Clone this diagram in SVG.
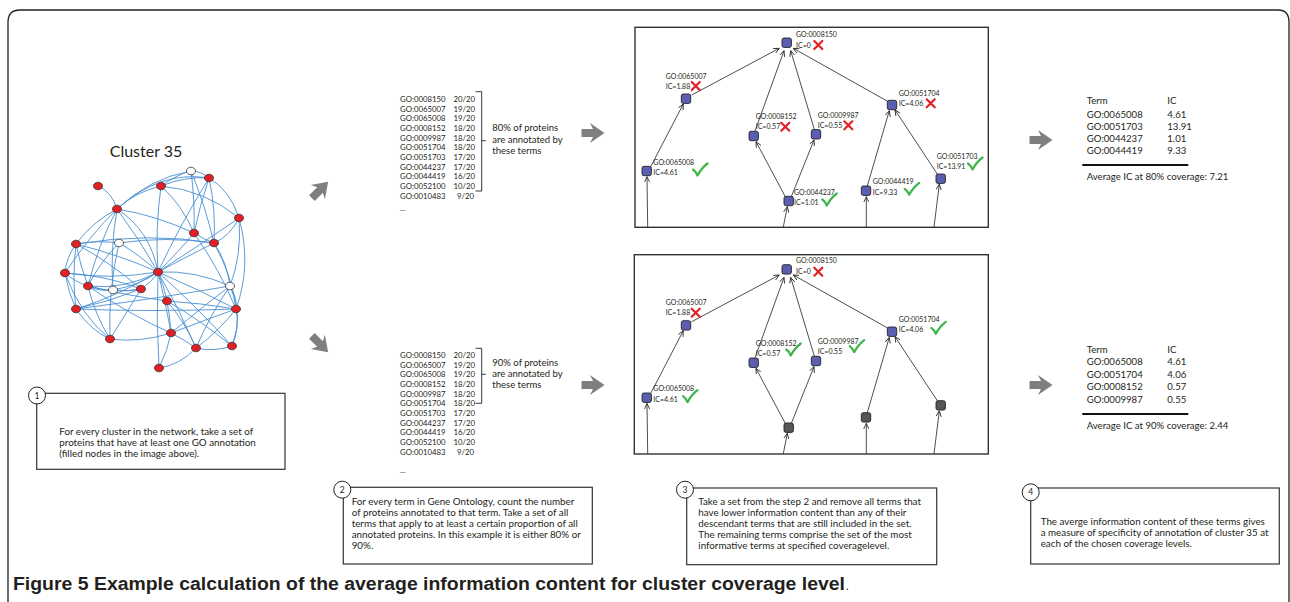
<svg xmlns="http://www.w3.org/2000/svg" width="1290" height="602" viewBox="0 0 1290 602">
<style>
text{font-family:Lato,"Liberation Sans",sans-serif;fill:#231f20}
.lbl{font-size:7px}
.lst{font-size:7.8px}
.br{font-size:9.5px}
.tb{font-size:9.6px}
.bx{font-size:9.8px}
.num{font-size:8.5px;text-anchor:middle}
.ttl{font-size:16px}
.cap{font-family:"Liberation Sans",Arial,sans-serif;font-size:17.5px;font-weight:bold}
.e{fill:none;stroke:#4a90d4;stroke-width:0.9}
.rn{fill:#e31e24;stroke:#333;stroke-width:0.8}
.wn{fill:#fff;stroke:#333;stroke-width:0.8}
.tn{fill:#5b5fb2;stroke:#222;stroke-width:0.9}
.gn{fill:#555;stroke:#222;stroke-width:0.9}
.te{fill:none;stroke:#222;stroke-width:0.8;marker-end:url(#ah)}
.frame{fill:none;stroke:#222;stroke-width:1.3}
.box{fill:#fff;stroke:#333;stroke-width:1.2}
.circ{fill:#fff;stroke:#222;stroke-width:1}
.ga{fill:#7f7f7f}
.xm{fill:none;stroke:#e31e24;stroke-width:2.2;stroke-linecap:round}
.ck{fill:none;stroke:#3db54a;stroke-width:2.2;stroke-linecap:round;stroke-linejoin:round}
.brk{fill:none;stroke:#222;stroke-width:0.9}
</style>
<defs>
<marker id="ah" viewBox="0 0 8 8" refX="7.5" refY="4" markerWidth="6" markerHeight="6" orient="auto" markerUnits="userSpaceOnUse">
<path d="M0,0.5 L7.5,4 L0,7.5" fill="none" stroke="#222" stroke-width="1.1"/>
</marker>
<path id="garrow" class="ga" d="M-11.5,-4 H0 L-3,-10 L11.5,0 L-3,10 L0,4 H-11.5 Z"/>
<g id="xmark"><path class="xm" d="M-4,-4 Q0,0 4,4 M4,-4 Q0,0 -4,4"/></g>
<g id="check"><path class="ck" d="M-7,-0.5 Q-4,1.5 -2.5,5.5 Q1.5,-2 7.5,-6.5"/></g>
</defs>

<path class="frame" d="M8,602 V22 Q8,10 20,10 H1278 Q1289,10 1289,22 V602"/>

<!-- Cluster 35 -->
<g id="cluster">
<text class="ttl" x="146" y="157" text-anchor="middle">Cluster 35</text>
<g id="cluster-edges">
<path class="e" d="M98,186 Q112,192 117,209"/>
<path class="e" d="M117,209 Q135,192 161,186"/>
<path class="e" d="M117,209 Q150,178 191,171"/>
<path class="e" d="M117,209 Q160,170 209,178"/>
<path class="e" d="M161,186 Q178,174 191,171"/>
<path class="e" d="M161,186 Q186,176 209,178"/>
<path class="e" d="M161,186 Q182,205 194,233"/>
<path class="e" d="M161,186 Q205,190 239,218"/>
<path class="e" d="M161,186 Q155,230 158,272"/>
<path class="e" d="M191,171 Q201,171 209,178"/>
<path class="e" d="M191,171 Q195,200 194,233"/>
<path class="e" d="M191,171 Q205,205 214,243"/>
<path class="e" d="M209,178 Q230,190 239,218"/>
<path class="e" d="M209,178 Q216,210 214,243"/>
<path class="e" d="M209,178 Q200,205 194,233"/>
<path class="e" d="M239,218 Q230,236 214,243"/>
<path class="e" d="M239,218 Q242,255 230,286"/>
<path class="e" d="M117,209 Q155,215 194,233"/>
<path class="e" d="M117,209 Q140,240 158,272"/>
<path class="e" d="M117,209 Q150,230 158,272"/>
<path class="e" d="M117,209 Q92,222 76,244"/>
<path class="e" d="M117,209 Q90,235 65,273"/>
<path class="e" d="M117,209 Q98,245 88,286"/>
<path class="e" d="M117,209 Q110,250 113,290"/>
<path class="e" d="M76,244 Q98,240 119,243"/>
<path class="e" d="M76,244 Q150,232 214,243"/>
<path class="e" d="M76,244 Q66,258 65,273"/>
<path class="e" d="M76,244 Q80,265 88,286"/>
<path class="e" d="M76,244 Q120,255 158,272"/>
<path class="e" d="M76,244 Q110,262 141,289"/>
<path class="e" d="M76,244 Q72,278 76,309"/>
<path class="e" d="M119,243 Q100,262 88,286"/>
<path class="e" d="M119,243 Q140,255 158,272"/>
<path class="e" d="M119,243 Q108,290 110,339"/>
<path class="e" d="M119,243 Q165,236 214,243"/>
<path class="e" d="M65,273 Q75,282 88,286"/>
<path class="e" d="M65,273 Q105,275 141,289"/>
<path class="e" d="M65,273 Q110,280 158,272"/>
<path class="e" d="M65,273 Q68,292 76,309"/>
<path class="e" d="M65,273 Q80,315 110,339"/>
<path class="e" d="M88,286 Q100,292 113,290"/>
<path class="e" d="M88,286 Q115,294 141,289"/>
<path class="e" d="M88,286 Q125,290 158,272"/>
<path class="e" d="M88,286 Q130,296 167,301"/>
<path class="e" d="M88,286 Q95,315 110,339"/>
<path class="e" d="M88,286 Q130,315 171,333"/>
<path class="e" d="M113,290 Q127,292 141,289"/>
<path class="e" d="M113,290 Q140,285 158,272"/>
<path class="e" d="M141,289 Q152,282 158,272"/>
<path class="e" d="M141,289 Q125,315 110,339"/>
<path class="e" d="M141,289 Q108,302 76,309"/>
<path class="e" d="M76,309 Q120,295 158,272"/>
<path class="e" d="M76,309 Q160,298 230,286"/>
<path class="e" d="M76,309 Q90,330 110,339"/>
<path class="e" d="M76,309 Q150,312 236,309"/>
<path class="e" d="M158,272 Q180,250 194,233"/>
<path class="e" d="M158,272 Q190,255 214,243"/>
<path class="e" d="M158,272 Q200,245 239,218"/>
<path class="e" d="M158,272 Q180,225 209,178"/>
<path class="e" d="M158,272 Q164,286 167,301"/>
<path class="e" d="M158,272 Q166,305 171,333"/>
<path class="e" d="M158,272 Q180,310 196,348"/>
<path class="e" d="M158,272 Q200,310 232,346"/>
<path class="e" d="M158,272 Q200,290 236,309"/>
<path class="e" d="M158,272 Q195,270 230,286"/>
<path class="e" d="M158,272 Q156,320 159,368"/>
<path class="e" d="M167,301 Q170,317 171,333"/>
<path class="e" d="M167,301 Q185,322 196,348"/>
<path class="e" d="M167,301 Q200,320 232,346"/>
<path class="e" d="M167,301 Q200,303 236,309"/>
<path class="e" d="M171,333 Q185,340 196,348"/>
<path class="e" d="M171,333 Q205,320 236,309"/>
<path class="e" d="M171,333 Q205,305 230,286"/>
<path class="e" d="M110,339 Q140,343 171,333"/>
<path class="e" d="M196,348 Q214,352 232,346"/>
<path class="e" d="M196,348 Q220,330 236,309"/>
<path class="e" d="M232,346 Q240,328 236,309"/>
<path class="e" d="M236,309 Q237,297 230,286"/>
<path class="e" d="M214,243 Q227,262 230,286"/>
<path class="e" d="M214,243 Q232,275 236,309"/>
<path class="e" d="M194,233 Q220,270 236,309"/>
<path class="e" d="M159,368 Q168,350 171,333"/>
<path class="e" d="M159,368 Q180,365 196,348"/>
<path class="e" d="M230,286 Q244,315 232,346"/>
<path class="e" d="M239,218 Q252,265 236,309"/>
<path class="e" d="M194,233 Q205,240 214,243"/>
<path class="e" d="M230,286 Q210,315 196,348"/>
</g>
<g id="cluster-nodes">
<ellipse class="wn" cx="191" cy="171" rx="4.5" ry="3.8"/>
<ellipse class="rn" cx="209" cy="178" rx="4.5" ry="3.8"/>
<ellipse class="rn" cx="98" cy="186" rx="4.5" ry="3.8"/>
<ellipse class="rn" cx="161" cy="186" rx="4.5" ry="3.8"/>
<ellipse class="rn" cx="117" cy="209" rx="4.5" ry="3.8"/>
<ellipse class="rn" cx="239" cy="218" rx="4.5" ry="3.8"/>
<ellipse class="rn" cx="194" cy="233" rx="4.5" ry="3.8"/>
<ellipse class="wn" cx="119" cy="243" rx="4.5" ry="3.8"/>
<ellipse class="rn" cx="76" cy="244" rx="4.5" ry="3.8"/>
<ellipse class="rn" cx="214" cy="243" rx="4.5" ry="3.8"/>
<ellipse class="rn" cx="65" cy="273" rx="4.5" ry="3.8"/>
<ellipse class="rn" cx="158" cy="272" rx="4.5" ry="3.8"/>
<ellipse class="rn" cx="88" cy="286" rx="4.5" ry="3.8"/>
<ellipse class="wn" cx="113" cy="290" rx="4.5" ry="3.8"/>
<ellipse class="rn" cx="141" cy="289" rx="4.5" ry="3.8"/>
<ellipse class="wn" cx="230" cy="286" rx="4.5" ry="3.8"/>
<ellipse class="rn" cx="167" cy="301" rx="4.5" ry="3.8"/>
<ellipse class="rn" cx="76" cy="309" rx="4.5" ry="3.8"/>
<ellipse class="rn" cx="236" cy="309" rx="4.5" ry="3.8"/>
<ellipse class="rn" cx="171" cy="333" rx="4.5" ry="3.8"/>
<ellipse class="rn" cx="110" cy="339" rx="4.5" ry="3.8"/>
<ellipse class="rn" cx="196" cy="348" rx="4.5" ry="3.8"/>
<ellipse class="rn" cx="232" cy="346" rx="4.5" ry="3.8"/>
<ellipse class="rn" cx="159" cy="368" rx="4.5" ry="3.8"/>
</g>
</g>

<!-- Step 1 box -->
<g id="step1">
<rect class="box" x="36.7" y="393.3" width="248.3" height="76"/>
<circle class="circ" cx="37" cy="395.5" r="8.5"/>
<text class="num" x="37" y="398.5">1</text>
<text class="bx" x="59.3" y="435">For every cluster in the network, take a set of</text>
<text class="bx" x="59.3" y="446.2">proteins that have at least one GO annotation</text>
<text class="bx" x="59.3" y="457.4">(filled nodes in the image above).</text>
</g>

<!-- big gray arrows -->
<g id="arrows">
<use href="#garrow" transform="translate(320,190) rotate(-45)"/>
<use href="#garrow" transform="translate(320,344) rotate(45)"/>
<use href="#garrow" transform="translate(593,133)"/>
<use href="#garrow" transform="translate(593,385)"/>
<use href="#garrow" transform="translate(1041,140)"/>
<use href="#garrow" transform="translate(1041,385)"/>
</g>

<!-- GO list 80% -->
<g id="list80">
<text class="lst" x="400" y="101.8">GO:0008150</text><text class="lst" x="475" y="101.8" text-anchor="end">20/20</text>
<text class="lst" x="400" y="111.5">GO:0065007</text><text class="lst" x="475" y="111.5" text-anchor="end">19/20</text>
<text class="lst" x="400" y="121.1">GO:0065008</text><text class="lst" x="475" y="121.1" text-anchor="end">19/20</text>
<text class="lst" x="400" y="130.8">GO:0008152</text><text class="lst" x="475" y="130.8" text-anchor="end">18/20</text>
<text class="lst" x="400" y="140.5">GO:0009987</text><text class="lst" x="475" y="140.5" text-anchor="end">18/20</text>
<text class="lst" x="400" y="150.2">GO:0051704</text><text class="lst" x="475" y="150.2" text-anchor="end">18/20</text>
<text class="lst" x="400" y="159.8">GO:0051703</text><text class="lst" x="475" y="159.8" text-anchor="end">17/20</text>
<text class="lst" x="400" y="169.5">GO:0044237</text><text class="lst" x="475" y="169.5" text-anchor="end">17/20</text>
<text class="lst" x="400" y="179.2">GO:0044419</text><text class="lst" x="475" y="179.2" text-anchor="end">16/20</text>
<text class="lst" x="400" y="188.8">GO:0052100</text><text class="lst" x="475" y="188.8" text-anchor="end">10/20</text>
<text class="lst" x="400" y="198.5">GO:0010483</text><text class="lst" x="474" y="198.5" text-anchor="end">9/20</text>
<text class="lst" x="400" y="211">...</text>
<path class="brk" d="M475.5,91.7 H481.7 V191 H475.5 M481.7,140.7 H485.7"/>
<text class="br" x="492.3" y="131.3">80% of proteins</text>
<text class="br" x="492.3" y="143">are annotated by</text>
<text class="br" x="492.3" y="154">these terms</text>
</g>

<!-- GO list 90% -->
<g id="list90">
<text class="lst" x="400" y="357.8">GO:0008150</text><text class="lst" x="475" y="357.8" text-anchor="end">20/20</text>
<text class="lst" x="400" y="367.5">GO:0065007</text><text class="lst" x="475" y="367.5" text-anchor="end">19/20</text>
<text class="lst" x="400" y="377.1">GO:0065008</text><text class="lst" x="475" y="377.1" text-anchor="end">19/20</text>
<text class="lst" x="400" y="386.8">GO:0008152</text><text class="lst" x="475" y="386.8" text-anchor="end">18/20</text>
<text class="lst" x="400" y="396.5">GO:0009987</text><text class="lst" x="475" y="396.5" text-anchor="end">18/20</text>
<text class="lst" x="400" y="406.2">GO:0051704</text><text class="lst" x="475" y="406.2" text-anchor="end">18/20</text>
<text class="lst" x="400" y="415.8">GO:0051703</text><text class="lst" x="475" y="415.8" text-anchor="end">17/20</text>
<text class="lst" x="400" y="425.5">GO:0044237</text><text class="lst" x="475" y="425.5" text-anchor="end">17/20</text>
<text class="lst" x="400" y="435.2">GO:0044419</text><text class="lst" x="475" y="435.2" text-anchor="end">16/20</text>
<text class="lst" x="400" y="444.8">GO:0052100</text><text class="lst" x="475" y="444.8" text-anchor="end">10/20</text>
<text class="lst" x="400" y="454.5">GO:0010483</text><text class="lst" x="474" y="454.5" text-anchor="end">9/20</text>
<text class="lst" x="400" y="472.7">...</text>
<path class="brk" d="M475.5,348.3 H481.7 V403.3 H475.5 M481.7,374.3 H485.7"/>
<text class="br" x="492.3" y="366.3">90% of proteins</text>
<text class="br" x="492.3" y="377.3">are annotated by</text>
<text class="br" x="492.3" y="387.8">these terms</text>
</g>

<!-- Step 2 box -->
<g id="step2">
<rect class="box" x="343.3" y="487.3" width="249" height="76.7"/>
<circle class="circ" cx="342.3" cy="489.7" r="8.5"/>
<text class="num" x="342.3" y="492.7">2</text>
<text class="bx" x="351.7" y="504.6">For every term in Gene Ontology, count the number</text>
<text class="bx" x="351.7" y="515.8">of proteins annotated to that term. Take a set of all</text>
<text class="bx" x="351.7" y="527">terms that apply to at least a certain proportion of all</text>
<text class="bx" x="351.7" y="538.2">annotated proteins. In this example it is either 80% or</text>
<text class="bx" x="351.7" y="549.4">90%.</text>
</g>

<!-- Top tree (80%) -->
<g id="tree80">
<rect x="635" y="27.3" width="353.3" height="200" fill="#fff" stroke="#333" stroke-width="1.4"/>
<g id="tree80-edges">
<path class="te" d="M691.7,95 L779.3,48.3"/>
<path class="te" d="M755,131 L784,50.7"/>
<path class="te" d="M814.3,129.3 L790.7,50.7"/>
<path class="te" d="M888.3,101.7 L793.3,48.3"/>
<path class="te" d="M650.7,166.7 L683.3,104"/>
<path class="te" d="M785.3,196.7 L756,141.7"/>
<path class="te" d="M791.3,196.7 L814,140"/>
<path class="te" d="M867.3,186 L889.3,110.7"/>
<path class="te" d="M937.3,174 L895,110"/>
<path class="te" d="M647.7,227 L647,176.7"/>
<path class="te" d="M783.3,227 L787.3,206.7"/>
<path class="te" d="M866.3,227 L866.3,196.7"/>
<path class="te" d="M934,227 L939.3,184.3"/>
</g>
<g id="t80-n0"><rect class="tn" x="782" y="38" width="9.4" height="9.4" rx="2"/><text class="lbl" x="796" y="36.5">GO:0008150</text><text class="lbl" x="796" y="47.5">IC=0</text><use href="#xmark" x="818.3" y="45"/></g>
<g id="t80-n1"><rect class="tn" x="681.3" y="94" width="9.4" height="9.4" rx="2"/><text class="lbl" x="665.7" y="78.5">GO:0065007</text><text class="lbl" x="665.7" y="88.5">IC=1.88</text><use href="#xmark" x="695.7" y="86"/></g>
<g id="t80-n2"><rect class="tn" x="749" y="131.3" width="9.4" height="9.4" rx="2"/><text class="lbl" x="755.7" y="119.2">GO:0008152</text><text class="lbl" x="755.7" y="129.2">IC=0.57</text><use href="#xmark" x="785.3" y="126.7"/></g>
<g id="t80-n3"><rect class="tn" x="811.3" y="129.6" width="9.4" height="9.4" rx="2"/><text class="lbl" x="817.7" y="117.8">GO:0009987</text><text class="lbl" x="817.7" y="127.8">IC=0.55</text><use href="#xmark" x="848.3" y="125.3"/></g>
<g id="t80-n4"><rect class="tn" x="887.3" y="100.3" width="9.4" height="9.4" rx="2"/><text class="lbl" x="898.7" y="95.8">GO:0051704</text><text class="lbl" x="898.7" y="105.8">IC=4.06</text><use href="#xmark" x="930.7" y="103.3"/></g>
<g id="t80-n5"><rect class="tn" x="642" y="166.3" width="9.4" height="9.4" rx="2"/><text class="lbl" x="653.3" y="164.8">GO:0065008</text><text class="lbl" x="653.3" y="175.2">IC=4.61</text><use href="#check" x="700" y="170"/></g>
<g id="t80-n6"><rect class="tn" x="784" y="196.3" width="9.4" height="9.4" rx="2"/><text class="lbl" x="794" y="195.2">GO:0044237</text><text class="lbl" x="794" y="204.8">IC=1.01</text><use href="#check" x="829.3" y="200"/></g>
<g id="t80-n7"><rect class="tn" x="861.3" y="186" width="9.4" height="9.4" rx="2"/><text class="lbl" x="872.7" y="184.2">GO:0044419</text><text class="lbl" x="872.7" y="195.2">IC=9.33</text><use href="#check" x="911.7" y="189.3"/></g>
<g id="t80-n8"><rect class="tn" x="936" y="174" width="9.4" height="9.4" rx="2"/><text class="lbl" x="936.7" y="158.5">GO:0051703</text><text class="lbl" x="936.7" y="168.5">IC=13.91</text><use href="#check" x="975" y="164"/></g>
</g>

<!-- Bottom tree (90%) -->
<g id="tree90">
<rect x="634.3" y="254.7" width="354" height="199.3" fill="#fff" stroke="#333" stroke-width="1.4"/>
<g id="tree90-edges" transform="translate(0,226.7)">
<path class="te" d="M691.7,95 L779.3,48.3"/>
<path class="te" d="M755,131 L784,50.7"/>
<path class="te" d="M814.3,129.3 L790.7,50.7"/>
<path class="te" d="M888.3,101.7 L793.3,48.3"/>
<path class="te" d="M650.7,166.7 L683.3,104"/>
<path class="te" d="M785.3,196.7 L756,141.7"/>
<path class="te" d="M791.3,196.7 L814,140"/>
<path class="te" d="M867.3,186 L889.3,110.7"/>
<path class="te" d="M937.3,174 L895,110"/>
<path class="te" d="M647.7,227 L647,176.7"/>
<path class="te" d="M783.3,227 L787.3,206.7"/>
<path class="te" d="M866.3,227 L866.3,196.7"/>
<path class="te" d="M934,227 L939.3,184.3"/>
</g>
<g id="t90-n0" transform="translate(0,226.7)"><rect class="tn" x="782" y="38" width="9.4" height="9.4" rx="2"/><text class="lbl" x="796" y="36.5">GO:0008150</text><text class="lbl" x="796" y="47.5">IC=0</text><use href="#xmark" x="818.3" y="45"/></g>
<g id="t90-n1" transform="translate(0,226.7)"><rect class="tn" x="681.3" y="94" width="9.4" height="9.4" rx="2"/><text class="lbl" x="665.7" y="78.5">GO:0065007</text><text class="lbl" x="665.7" y="88.5">IC=1.88</text><use href="#xmark" x="695.7" y="86"/></g>
<g id="t90-n2" transform="translate(0,226.7)"><rect class="tn" x="749" y="131.3" width="9.4" height="9.4" rx="2"/><text class="lbl" x="755.7" y="119.2">GO:0008152</text><text class="lbl" x="755.7" y="129.2">IC=0.57</text><use href="#check" x="793.3" y="123.3"/></g>
<g id="t90-n3" transform="translate(0,226.7)"><rect class="tn" x="811.3" y="129.6" width="9.4" height="9.4" rx="2"/><text class="lbl" x="817.7" y="117.8">GO:0009987</text><text class="lbl" x="817.7" y="127.8">IC=0.55</text><use href="#check" x="856.7" y="120"/></g>
<g id="t90-n4" transform="translate(0,226.7)"><rect class="tn" x="887.3" y="100.3" width="9.4" height="9.4" rx="2"/><text class="lbl" x="898.7" y="95.8">GO:0051704</text><text class="lbl" x="898.7" y="105.8">IC=4.06</text><use href="#check" x="938.3" y="101.6"/></g>
<g id="t90-n5" transform="translate(0,226.7)"><rect class="tn" x="642" y="166.3" width="9.4" height="9.4" rx="2"/><text class="lbl" x="653.3" y="164.8">GO:0065008</text><text class="lbl" x="653.3" y="175.2">IC=4.61</text><use href="#check" x="690" y="170"/></g>
<g id="t90-n6" transform="translate(0,226.7)"><rect class="gn" x="784" y="196.3" width="9.4" height="9.4" rx="2"/></g>
<g id="t90-n7" transform="translate(0,226.7)"><rect class="gn" x="861.3" y="186" width="9.4" height="9.4" rx="2"/></g>
<g id="t90-n8" transform="translate(0,226.7)"><rect class="gn" x="936" y="174" width="9.4" height="9.4" rx="2"/></g>
</g>

<!-- Step 3 box -->
<g id="step3">
<rect class="box" x="686.7" y="488" width="250" height="76.7"/>
<circle class="circ" cx="685" cy="489.7" r="8.5"/>
<text class="num" x="685" y="492.7">3</text>
<text class="bx" x="698.3" y="504.6">Take a set from the step 2 and remove all terms that</text>
<text class="bx" x="698.3" y="515.8">have lower information content than any of their</text>
<text class="bx" x="698.3" y="527">descendant terms that are still included in the set.</text>
<text class="bx" x="698.3" y="538.2">The remaining terms comprise the set of the most</text>
<text class="bx" x="698.3" y="549.4">informative terms at specified coveragelevel.</text>
</g>

<!-- Tables -->
<g id="table80">
<text class="tb" x="1086.7" y="104">Term</text><text class="tb" x="1167.3" y="104">IC</text>
<text class="tb" x="1086.7" y="117.6">GO:0065008</text><text class="tb" x="1167.3" y="117.6">4.61</text>
<text class="tb" x="1086.7" y="130">GO:0051703</text><text class="tb" x="1167.3" y="130">13.91</text>
<text class="tb" x="1086.7" y="142">GO:0044237</text><text class="tb" x="1167.3" y="142">1.01</text>
<text class="tb" x="1086.7" y="154.2">GO:0044419</text><text class="tb" x="1167.3" y="154.2">9.33</text>
<line x1="1082.3" y1="165" x2="1188.3" y2="165" stroke="#111" stroke-width="2"/>
<text class="tb" x="1086.7" y="180">Average IC at 80% coverage: 7.21</text>
</g>
<g id="table90">
<text class="tb" x="1086.7" y="352.6">Term</text><text class="tb" x="1167.3" y="352.6">IC</text>
<text class="tb" x="1086.7" y="365">GO:0065008</text><text class="tb" x="1167.3" y="365">4.61</text>
<text class="tb" x="1086.7" y="377.6">GO:0051704</text><text class="tb" x="1167.3" y="377.6">4.06</text>
<text class="tb" x="1086.7" y="389.6">GO:0008152</text><text class="tb" x="1167.3" y="389.6">0.57</text>
<text class="tb" x="1086.7" y="402.6">GO:0009987</text><text class="tb" x="1167.3" y="402.6">0.55</text>
<line x1="1082.3" y1="414" x2="1188.3" y2="414" stroke="#111" stroke-width="2"/>
<text class="tb" x="1086.7" y="429.3">Average IC at 90% coverage: 2.44</text>
</g>

<!-- Step 4 box -->
<g id="step4">
<rect class="box" x="1030.7" y="488" width="248.6" height="76"/>
<circle class="circ" cx="1030.7" cy="492.3" r="8.5"/>
<text class="num" x="1030.7" y="495.3">4</text>
<text class="bx" x="1040.7" y="524.6">The averge information content of these terms gives</text>
<text class="bx" x="1040.7" y="535.8">a measure of specificity of annotation of cluster 35 at</text>
<text class="bx" x="1040.7" y="547">each of the chosen coverage levels.</text>
</g>

<!-- Caption -->
<text class="cap" x="13" y="590" textLength="832" lengthAdjust="spacingAndGlyphs">Figure 5 Example calculation of the average information content for cluster coverage level</text>
<text x="846" y="590" font-family="Liberation Sans,Arial,sans-serif" font-size="11">.</text>
</svg>
